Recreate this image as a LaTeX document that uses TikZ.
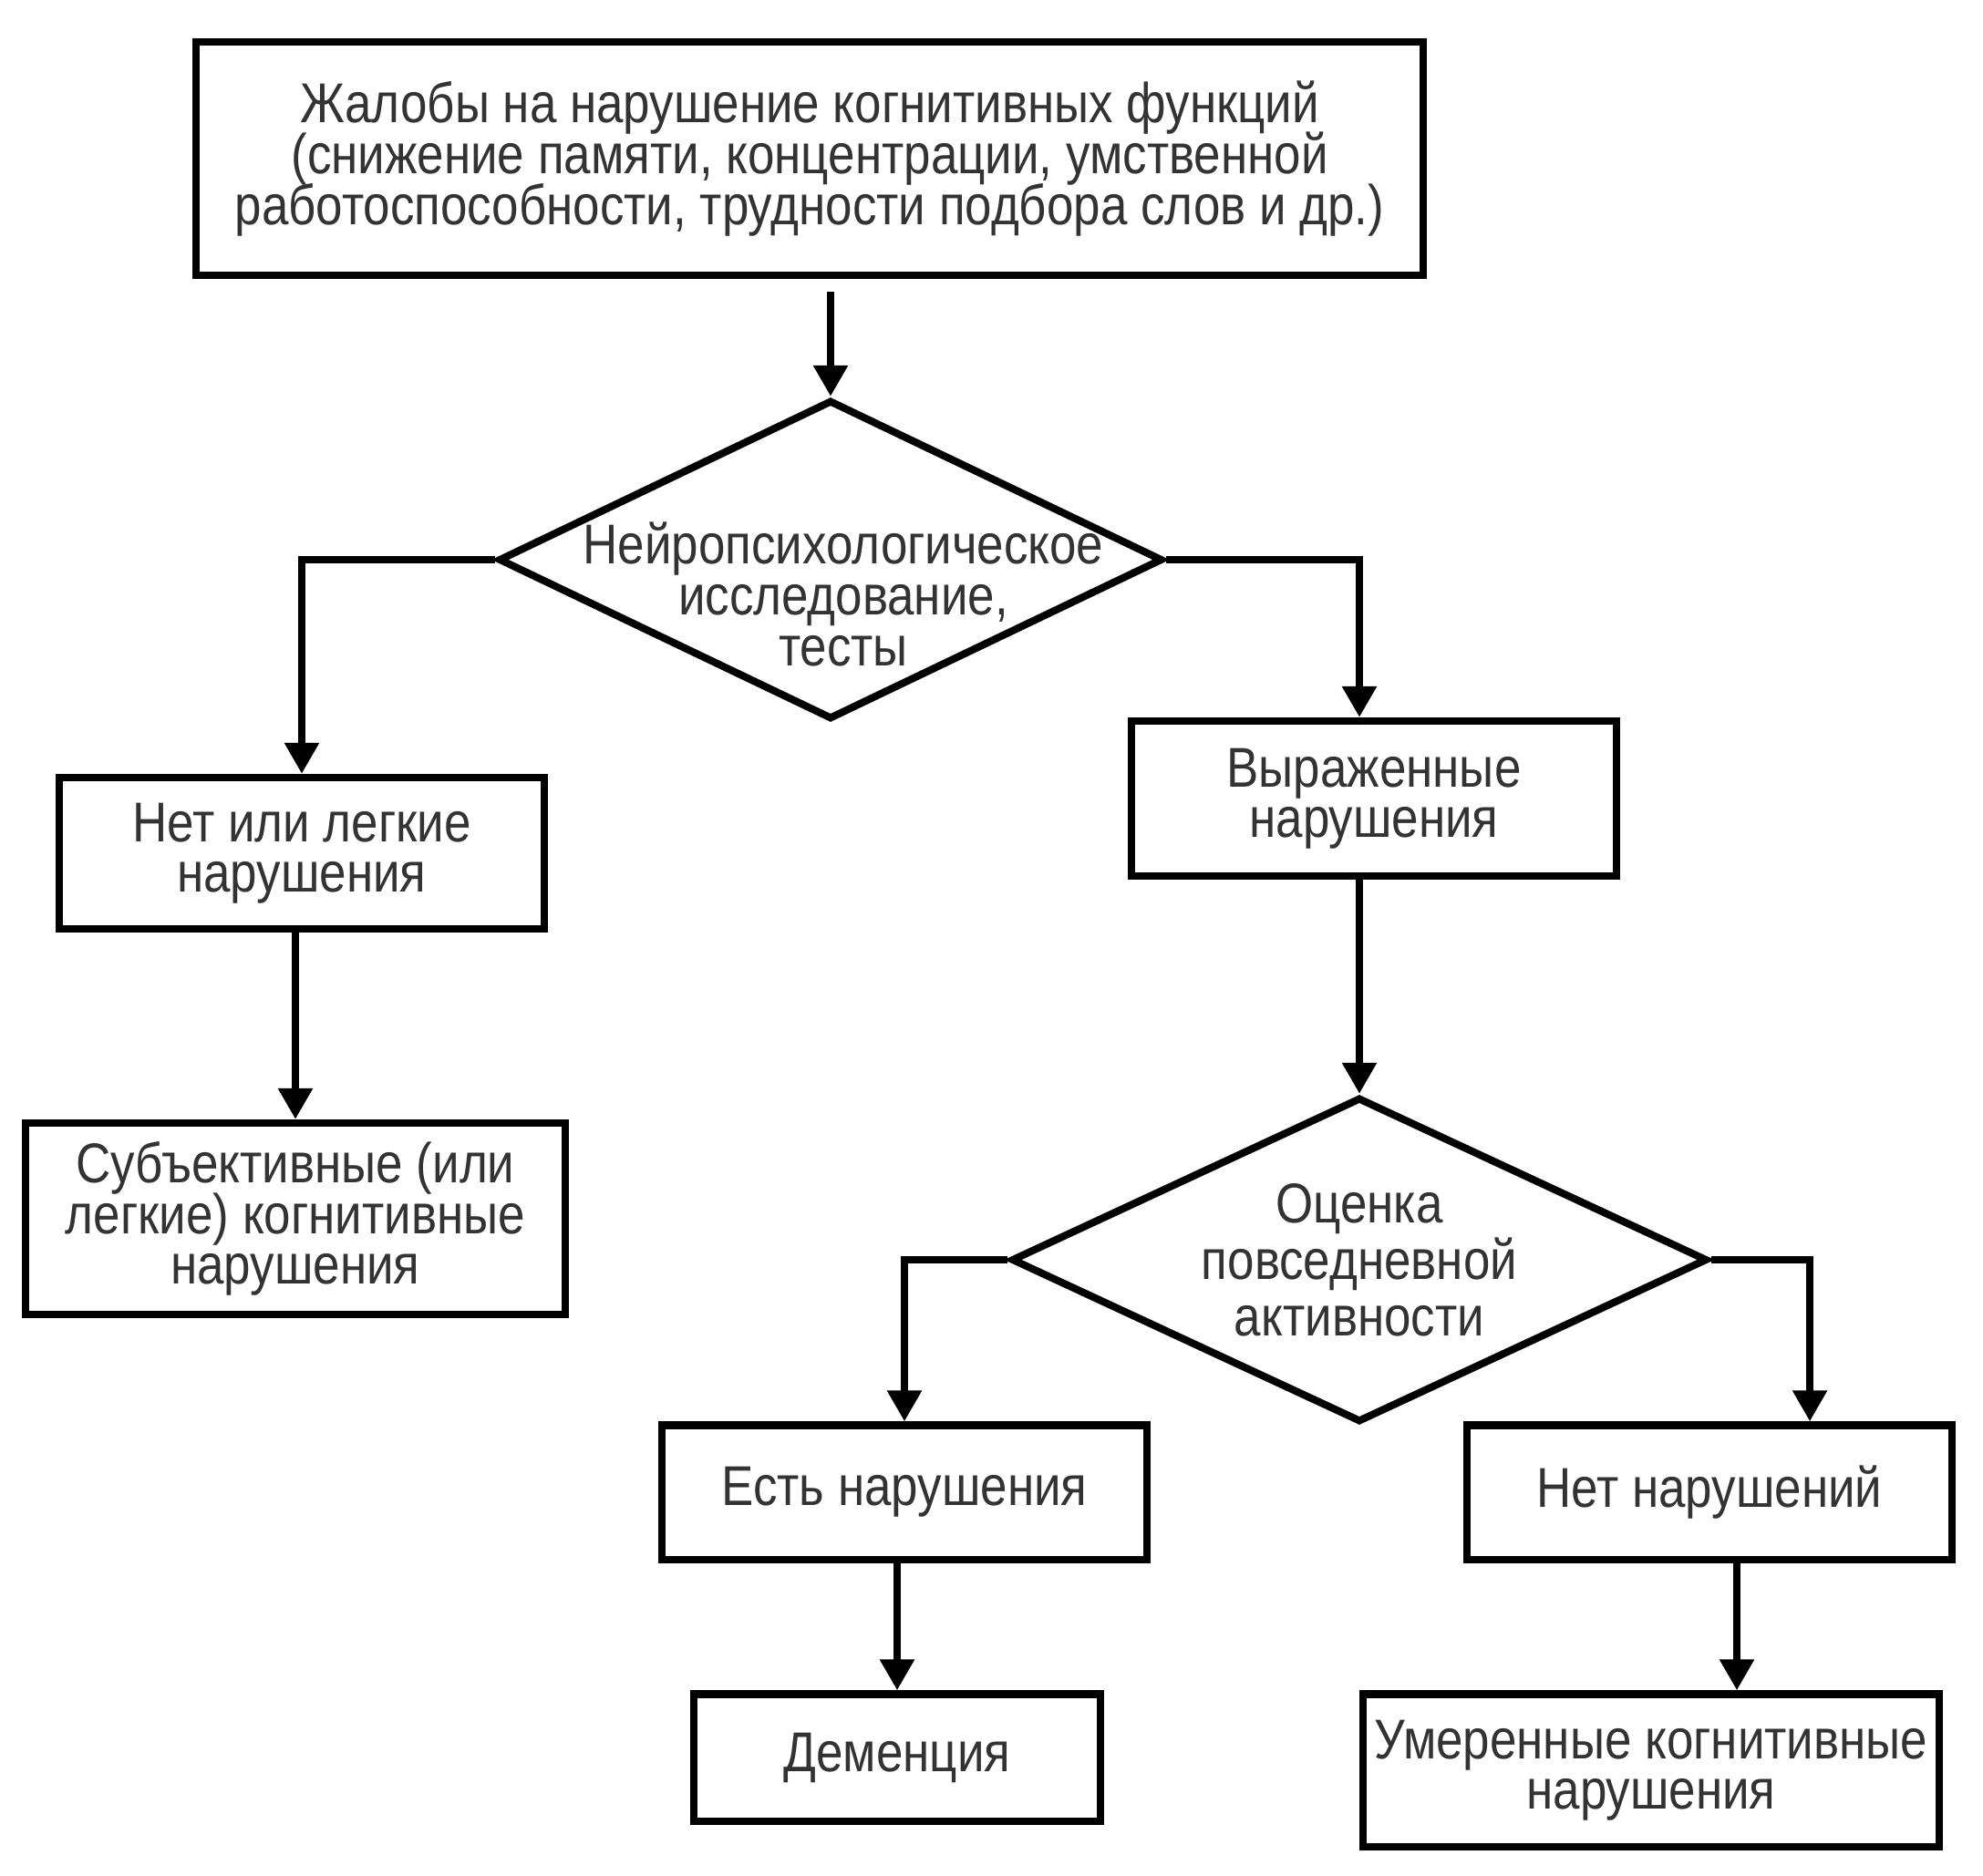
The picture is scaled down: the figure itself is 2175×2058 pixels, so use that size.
\documentclass[tikz,border=0pt]{standalone}
\usepackage{fontspec}
\setmainfont{Liberation Sans}[FakeStretch=0.86]
\usetikzlibrary{shapes.geometric, arrows.meta}
\setlength{\lineskiplimit}{-20pt}

\begin{document}
\begin{tikzpicture}[x=0.01cm, y=-0.01cm]

    \tikzset{box/.style={draw, line width=2.3pt, align=center, inner sep=0pt, text=black!80,
      font=\fontsize{17.5pt}{15.8pt}\selectfont}}
    \tikzset{decision/.style={draw, diamond, line width=2.3pt, inner sep=0pt, aspect=2}}
    \tikzstyle{txt}=[align=center, inner sep=0pt, text=black!80, font=\fontsize{17.5pt}{15.8pt}\selectfont]
    \tikzstyle{arr}=[line width=2.4pt, -{Triangle[width=0.36cm, length=0.34cm]}]

    \useasboundingbox (0,0) rectangle (2175,2058);

    \node (complaints) [box, minimum width=13.46cm, minimum height=2.56cm] at (888,174)
      {Жалобы на нарушение когнитивных функций\\(снижение памяти, концентрации, умственной\\работоспособности, трудности подбора слов и др.)};

    \node (neurotest) [decision, minimum width=7.28cm, minimum height=3.5cm] at (911,614) {};
    \node (neurotxt) [txt] at (925,652) {Нейропсихологическое\\исследование,\\тесты};

    \node (mild) [box, minimum width=5.31cm, minimum height=1.66cm] at (331,936) {Нет или легкие\\нарушения};
    \node (subjective) [box, minimum width=5.92cm, minimum height=2.1cm] at (324,1337)
      {Субъективные (или\\легкие) когнитивные\\нарушения};

    \node (severe) [box, minimum width=5.32cm, minimum height=1.70cm] at (1507,876) {Выраженные\\нарушения};

    \node (daily) [decision, minimum width=7.63cm, minimum height=3.56cm] at (1491,1382) {};
    \node (dailytxt) [txt, font=\fontsize{17.5pt}{17.6pt}\selectfont] at (1491,1382) {Оценка\\повседневной\\активности};

    \node (impaired) [box, minimum width=5.31cm, minimum height=1.47cm] at (992,1637) {Есть нарушения};
    \node (dementia) [box, minimum width=4.46cm, minimum height=1.39cm] at (984,1928) {Деменция};

    \node (intact) [box, minimum width=5.31cm, minimum height=1.47cm] at (1875,1637) {Нет нарушений};
    \node (mci) [box, minimum width=6.31cm, minimum height=1.67cm] at (1811,1942) {Умеренные когнитивные\\нарушения};

    % arrows
    \draw[arr] ([yshift=-0.14cm]neurotest.north |- complaints.south) -- (neurotest.north);
    \draw[arr] (neurotest.west) -| (mild.north);
    \draw[arr] (subjective.north |- mild.south) -- (subjective.north);
    \draw[arr] (neurotest.east) -| (daily.north |- severe.north);
    \draw[arr] (daily.north |- severe.south) -- (daily.north);
    \draw[arr] (daily.west) -| (impaired.north);
    \draw[arr] (dementia.north |- impaired.south) -- (dementia.north);
    \draw[arr] (daily.east) -| ([xshift=1.1cm]intact.north);
    \draw[arr] ([xshift=0.3cm]intact.south) -- ([xshift=0.3cm]intact.south |- mci.north);

\end{tikzpicture}
\end{document}
